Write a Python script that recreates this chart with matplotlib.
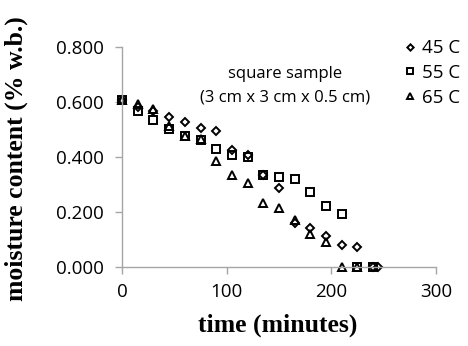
import numpy as np
import matplotlib.pyplot as plt

# drying data, time in minutes
t45 = [0, 15, 30, 45, 60, 75, 90, 105, 120, 135, 150, 165, 180, 195, 210, 225, 240, 245]
mc45 = [0.605, 0.580, 0.565, 0.545, 0.525, 0.505, 0.492, 0.425, 0.405, 0.335, 0.285,
        0.160, 0.140, 0.113, 0.080, 0.070, 0.0, 0.0]

t55 = [0, 15, 30, 45, 60, 75, 90, 105, 120, 135, 150, 165, 180, 195, 210, 225, 240]
mc55 = [0.605, 0.565, 0.535, 0.500, 0.475, 0.460, 0.427, 0.408, 0.400, 0.335, 0.325,
        0.320, 0.270, 0.220, 0.190, 0.0, 0.0]

t65 = [0, 15, 30, 45, 60, 75, 90, 105, 120, 135, 150, 165, 180, 195, 210, 225]
mc65 = [0.605, 0.590, 0.575, 0.510, 0.475, 0.465, 0.385, 0.335, 0.305, 0.230, 0.215,
        0.170, 0.118, 0.090, 0.0, 0.0]

labels = ['45 C', '55 C', '65 C']
markers = ['D', 's', '^']

fig = plt.figure(figsize=(4.68, 3.46), dpi=100)
ax = fig.add_axes([0.2607, 0.2292, 0.6709, 0.6358])

series = [(t45, mc45), (t55, mc55), (t65, mc65)]
sizes = [4.3, 5.5, 5.5]
for (t, mc), lab, mk, ms in zip(series, labels, markers, sizes):
    ax.plot(t, mc, linestyle='none', marker=mk, markersize=ms, markerfacecolor='none',
            markeredgecolor='black', markeredgewidth=1.4, label=lab, clip_on=False)

ax.set_xlim(0, 300)
ax.set_ylim(0, 0.8)
ax.set_xticks([0, 100, 200, 300])
ax.set_yticks([0, 0.2, 0.4, 0.6, 0.8])
ax.set_yticklabels(['%.3f' % v for v in [0, 0.2, 0.4, 0.6, 0.8]])

grey = '#a6a6a6'
for s in ['top', 'right']:
    ax.spines[s].set_visible(False)
for s in ['left', 'bottom']:
    ax.spines[s].set_color(grey)
    ax.spines[s].set_linewidth(1.0)
ax.tick_params(axis='both', colors=grey, length=5, width=1.0, direction='out',
               labelcolor='black', labelsize=13.5)
for lbl in ax.get_xticklabels() + ax.get_yticklabels():
    lbl.set_family('Open Sans')
ax.tick_params(axis='x', pad=7)
ax.tick_params(axis='y', pad=8)

ax.set_xlabel('time (minutes)', family='Liberation Serif', weight='bold', fontsize=18.5)
ax.xaxis.set_label_coords(0.497, -0.215)
ax.set_ylabel('moisture content (% w.b.)', family='Liberation Serif', weight='bold',
              fontsize=18.5)
ax.yaxis.set_label_coords(-0.30, 0.49)

ax.text(156, 0.702, 'square sample', ha='center', va='center', family='Open Sans',
        fontsize=12)
ax.text(156, 0.617, '(3 cm x 3 cm x 0.5 cm)', ha='center', va='center',
        family='Open Sans', fontsize=12)

leg = ax.legend(loc='upper left', bbox_to_anchor=(0.835, 1.11), frameon=False,
                handletextpad=0.1, handlelength=1.0, labelspacing=0.35,
                markerscale=0.75, prop={'family': 'Open Sans', 'size': 13.5})

fig.savefig('out.png', dpi=100)
